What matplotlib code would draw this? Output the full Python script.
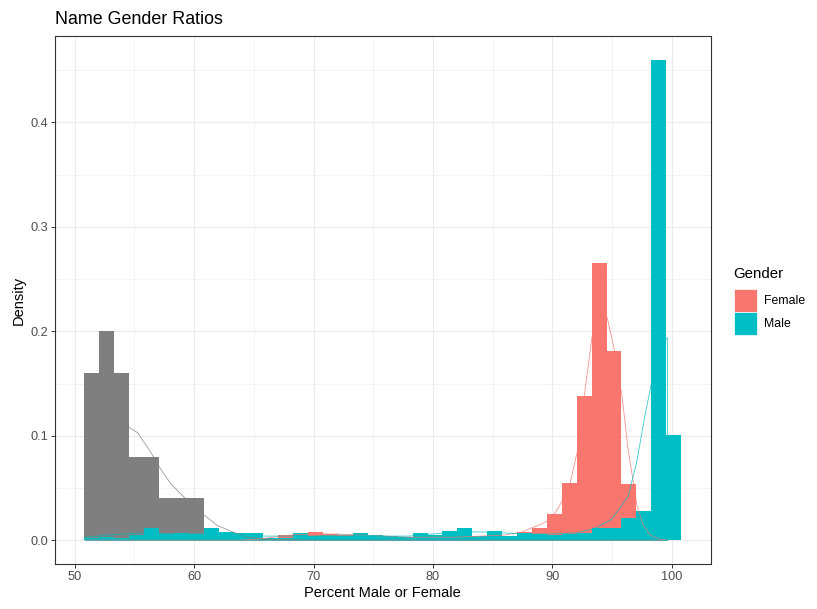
import matplotlib.pyplot as plt
import numpy as np
from matplotlib.patches import Rectangle

plt.rcParams['font.family'] = ['Liberation Sans', 'DejaVu Sans']

# histogram bins (binwidth 1.25 starting at 50.8)
bin_start = 50.8
bin_width = 1.25
n_bins = 40

# density per bin
gray_density = [0.16, 0.20, 0.16, 0.08, 0.08, 0.04, 0.04, 0.04] + [0.0] * 32

female_density = [0.0, 0.0, 0.0, 0.0, 0.0, 0.0, 0.0, 0.0, 0.0, 0.0,
                  0.0, 0.0, 0.002, 0.005, 0.003, 0.008, 0.006, 0.005, 0.003, 0.003,
                  0.003, 0.003, 0.003, 0.003, 0.003, 0.003, 0.003, 0.003, 0.003, 0.008,
                  0.012, 0.025, 0.055, 0.138, 0.265, 0.181, 0.054, 0.0, 0.0, 0.0]

male_density = [0.002, 0.0035, 0.002, 0.005, 0.012, 0.006, 0.007, 0.006, 0.012, 0.008,
                0.0065, 0.0065, 0.002, 0.002, 0.007, 0.004, 0.004, 0.004, 0.007, 0.005,
                0.004, 0.0035, 0.007, 0.005, 0.009, 0.012, 0.004, 0.009, 0.004, 0.007,
                0.006, 0.005, 0.006, 0.007, 0.012, 0.012, 0.021, 0.028, 0.46, 0.101]

# smoothed density curves
gray_kde_x = [50.9, 51.5, 52.3, 53.2, 54.0, 54.56, 55.26, 56.38, 57.2, 58.05,
              59.17, 60.85, 61.97, 63.36, 64.5, 66.0, 70.0, 99.65]
gray_kde_y = [0.12, 0.14, 0.15, 0.14, 0.12, 0.108, 0.103, 0.084, 0.068, 0.054,
              0.041, 0.024, 0.014, 0.0074, 0.003, 0.001, 0.0, 0.0]

female_kde_x = [50.9, 64.0, 66.0, 68.0, 70.0, 72.0, 74.0, 76.0, 78.0, 80.0,
                82.0, 84.0, 86.0, 87.5, 88.3, 89.0, 89.65, 90.3, 90.8, 91.5,
                92.2, 92.7, 93.4, 94.1, 94.6, 95.2, 95.85, 96.35, 96.8, 97.1,
                97.6, 98.2, 99.0, 99.65]
female_kde_y = [0.0, 0.0, 0.002, 0.005, 0.006, 0.006, 0.005, 0.004, 0.003, 0.003,
                0.003, 0.004, 0.005, 0.008, 0.012, 0.015, 0.019, 0.027, 0.037, 0.055,
                0.09, 0.14, 0.2, 0.215, 0.213, 0.183, 0.138, 0.087, 0.055, 0.033,
                0.015, 0.005, 0.001, 0.0]

male_kde_x = [50.9, 52.0, 54.0, 56.0, 58.0, 60.0, 62.0, 64.0, 66.0, 68.0,
              70.0, 72.0, 74.0, 76.0, 78.0, 80.0, 82.0, 84.0, 86.0, 88.0,
              90.0, 92.0, 93.5, 94.97, 96.36, 97.06, 97.76, 98.32, 98.8, 99.2, 99.65]
male_kde_y = [0.003, 0.004, 0.006, 0.007, 0.006, 0.006, 0.006, 0.005, 0.004, 0.004,
              0.004, 0.005, 0.005, 0.004, 0.004, 0.006, 0.008, 0.008, 0.007, 0.006,
              0.006, 0.007, 0.011, 0.02, 0.042, 0.074, 0.119, 0.151, 0.175, 0.188, 0.194]

genders = ['Female', 'Male']
colors = {'Female': '#F8766D', 'Male': '#00BFC4', 'NA': '#7F7F7F'}

W, H = 817, 609
fig = plt.figure(figsize=(W / 100, H / 100), dpi=100)
fig.patch.set_facecolor('white')

# panel position in pixels
px_left, px_right, px_top, px_bottom = 54.5, 711, 35.7, 564.3
ax = fig.add_axes([px_left / W, 1 - px_bottom / H,
                   (px_right - px_left) / W, (px_bottom - px_top) / H])

edges = bin_start + bin_width * np.arange(n_bins)

ax.bar(edges, gray_density, width=bin_width, align='edge', color=colors['NA'], linewidth=0, zorder=2)
ax.bar(edges, female_density, width=bin_width, align='edge', color=colors['Female'], linewidth=0, zorder=3)
ax.bar(edges, male_density, width=bin_width, align='edge', color=colors['Male'], linewidth=0, zorder=4)

# density outlines (closed polygons, like older ggplot geom_density)
for xs, ys, c in [(gray_kde_x, gray_kde_y, colors['NA']),
                  (female_kde_x, female_kde_y, colors['Female']),
                  (male_kde_x, male_kde_y, colors['Male'])]:
    px = [xs[0]] + list(xs) + [xs[-1], xs[0]]
    py = [0] + list(ys) + [0, 0]
    ax.plot(px, py, color=c, linewidth=0.55, alpha=0.85, zorder=5)

ax.set_xlim(48.3, 103.3)
ax.set_ylim(-0.023, 0.483)
ax.set_xticks([50, 60, 70, 80, 90, 100])
ax.set_yticks([0.0, 0.1, 0.2, 0.3, 0.4])
ax.set_yticklabels(['0.0', '0.1', '0.2', '0.3', '0.4'])
ax.set_xticks(np.arange(55, 101, 10), minor=True)
ax.set_yticks(np.arange(0.05, 0.46, 0.1), minor=True)
ax.grid(True, which='major', color='#EBEBEB', linewidth=0.8, zorder=0)
ax.grid(True, which='minor', color='#EBEBEB', linewidth=0.4, zorder=0)
ax.set_axisbelow(True)
ax.tick_params(which='major', length=2.6, width=0.7, color='#333333',
               labelcolor='#4D4D4D', labelsize=9.2, pad=2.2)
ax.tick_params(which='minor', length=0)
for s in ax.spines.values():
    s.set_color('#333333')
    s.set_linewidth(0.8)

fig.text(55 / W, 1 - 19 / H, 'Name Gender Ratios', fontsize=12.9, ha='left', va='center')
fig.text((px_left + px_right) / 2 / W, 1 - 593 / H, 'Percent Male or Female',
         fontsize=10.5, ha='center', va='center')
fig.text(19 / W, 1 - (px_top + px_bottom) / 2 / H, 'Density', fontsize=10.5,
         rotation=90, ha='center', va='center')

# legend
fig.text(733 / W, 1 - 274 / H, 'Gender', fontsize=10.8, ha='left', va='center')
key = 23.2
for i, g in enumerate(genders):
    top = 289 + i * key
    fig.add_artist(Rectangle((733.5 / W, 1 - (top + key) / H), key / W, key / H,
                             transform=fig.transFigure, facecolor=colors[g],
                             edgecolor='white', linewidth=0.5))
    fig.text(764 / W, 1 - (top + key / 2) / H, g, fontsize=8.8, ha='left', va='center')

plt.savefig('out.png', dpi=100)
plt.close()
